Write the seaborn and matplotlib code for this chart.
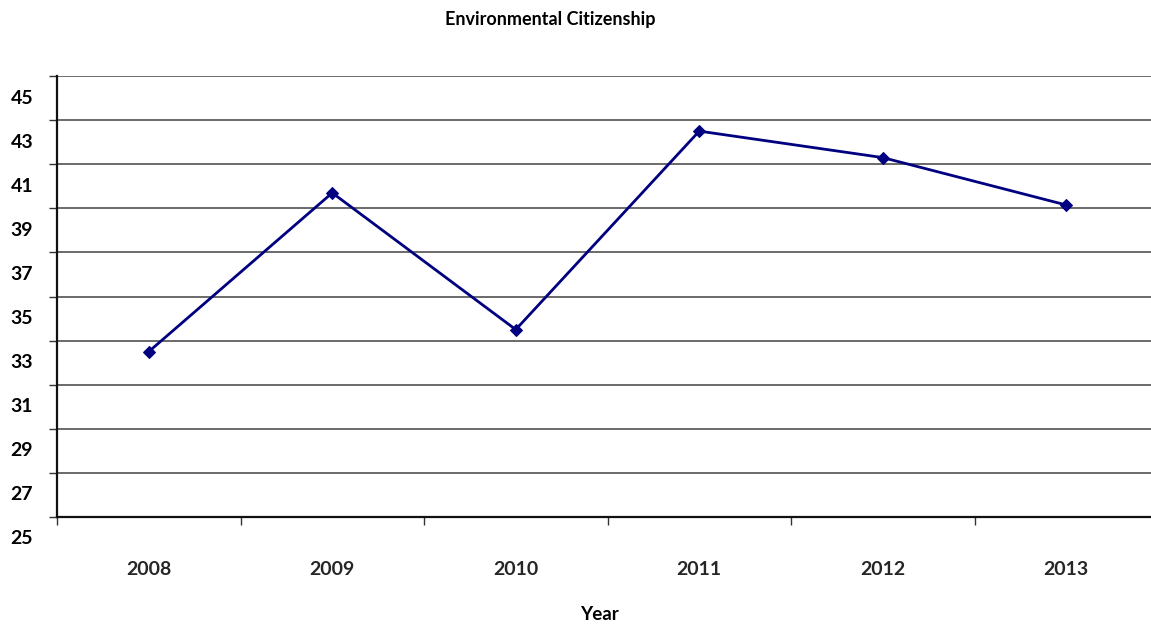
import matplotlib
matplotlib.use("Agg")
import matplotlib.pyplot as plt
import matplotlib.transforms as mtransforms
import seaborn as sns
import pandas as pd
import numpy as np

years = ["2008", "2009", "2010", "2011", "2012", "2013"]
scores = [32.5, 39.7, 33.5, 42.5, 41.3, 39.15]
y_ticks = list(range(25, 46, 2))

sns.set_theme(style="white")
plt.rcParams["font.family"] = ["Lato", "DejaVu Sans"]
plt.rcParams["font.weight"] = "bold"

W, H, DPI = 1151, 626, 100
fig = plt.figure(figsize=(W / DPI, H / DPI), dpi=DPI)
ax = fig.add_axes([57 / W, 1 - 517 / H, (1158 - 57) / W, (517 - 76) / H])

df = pd.DataFrame({"Year": years, "Score": scores})
sns.lineplot(data=df, x="Year", y="Score", ax=ax, color="#000080",
             linewidth=2, marker="D", markersize=6.5, markeredgecolor="#000080")

ax.set_xlim(-0.5, len(years) - 0.5)
ax.set_ylim(min(y_ticks), max(y_ticks))
ax.set_yticks(y_ticks)
ax.set_yticklabels([])
ax.yaxis.grid(True, color="#5f5f5f", linewidth=1.3)
ax.set_axisbelow(True)

# y labels are set one unit below their gridline, right-aligned left of the axis
label_tf = mtransforms.blended_transform_factory(fig.transFigure, ax.transData) + \
    mtransforms.ScaledTranslation(0, -22 / DPI, fig.dpi_scale_trans)
for v in y_ticks:
    fig.text(33 / W, v, str(v), transform=label_tf, ha="right", va="center",
             fontsize=14, fontweight="bold", color="black")

ax.tick_params(axis="y", which="major", direction="out", length=6, width=1,
               color="#333333", left=True)
ax.set_xticks(range(len(years)))
ax.set_xticklabels(years, fontsize=14, fontweight="bold")
ax.set_xticks(np.arange(-0.5, len(years), 1.0), minor=True)
ax.tick_params(axis="x", which="major", length=0, pad=32)
ax.tick_params(axis="x", which="minor", direction="out", length=6, width=1,
               color="#333333", bottom=True)

for side in ("top", "right"):
    ax.spines[side].set_visible(False)
for side in ("left", "bottom"):
    ax.spines[side].set_color("#111111")
    ax.spines[side].set_linewidth(1.6)

ax.set_xlabel("")
ax.set_ylabel("")
fig.text(550 / W, 1 - 19 / H, "Environmental Citizenship", ha="center",
         va="center", fontsize=13, fontweight="bold", color="black")
fig.text(599 / W, 1 - 615 / H, "Year", ha="center", va="center",
         fontsize=13.5, fontweight="bold", color="black")

fig.savefig("out.png", dpi=DPI, facecolor="white")
